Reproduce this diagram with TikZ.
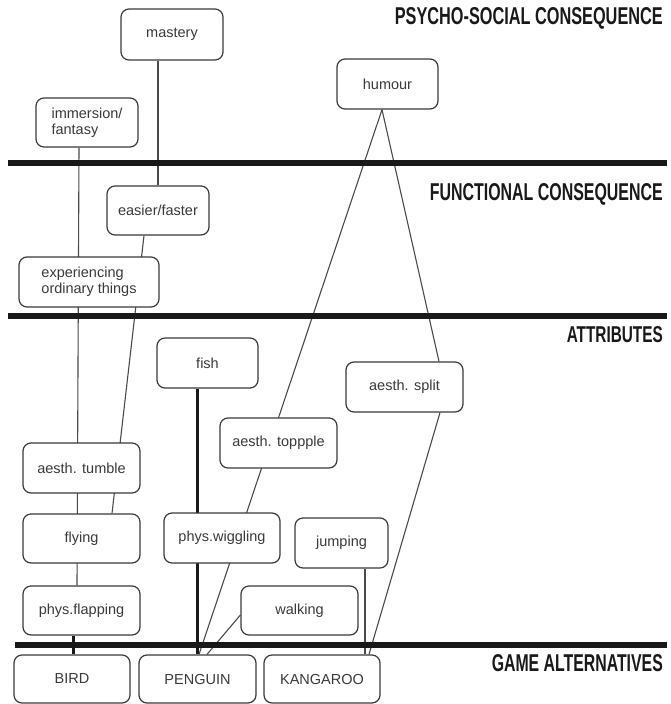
\documentclass[tikz,border=0pt]{standalone}
\usepackage{fontspec}
\usepackage{graphicx}
\setmainfont{Liberation Sans}
\usetikzlibrary{backgrounds,calc}
\definecolor{boxline}{HTML}{3A3A3A}
\definecolor{boxtext}{HTML}{3A3A3A}
\definecolor{conn}{HTML}{4A4A4A}
\begin{document}
\begin{tikzpicture}[x=1pt,y=-1pt,
  box/.style={draw=boxline, line width=1.2pt, rounded corners=8pt, fill=white,
    text=boxtext, font=\fontsize{14.5}{16}\selectfont, inner sep=0pt},
  thin/.style={draw=conn, line width=1.1pt},
  thick/.style={draw=black!90, line width=3pt},
  sep/.style={draw=black!90, line width=6pt},
  lab/.style={anchor=east, inner sep=0pt, text=black!90}]
\useasboundingbox (0,0) rectangle (670,704);
% separators
\draw[sep] (8,163) -- (667,163);
\draw[sep] (8,316) -- (667,316);
\draw[sep] (15,645) -- (667,645);
% labels
\node[lab] (l1) at (663,18.5) {\resizebox{268pt}{17pt}{\bfseries PSYCHO-SOCIAL CONSEQUENCE}};
\node[lab] (l2) at (663,194) {\resizebox{233pt}{17pt}{\bfseries FUNCTIONAL CONSEQUENCE}};
\node[lab] (l3) at (663,335) {\resizebox{96pt}{16pt}{\bfseries ATTRIBUTES}};
\node[lab] (l4) at (663,663.5) {\resizebox{171pt}{17pt}{\bfseries GAME ALTERNATIVES}};
% boxes
\node[box, minimum width=102pt, minimum height=51pt] (mastery) at (172,34.5) {mastery};
\node[box, minimum width=102pt, minimum height=49pt, align=left] (immersion) at (87,122.5) {immersion/\\fantasy};
\node[box, minimum width=102pt, minimum height=49pt] (easier) at (158,210.5) {easier/faster};
\node[box, minimum width=140pt, minimum height=50pt, align=left] (exper) at (89,282) {experiencing\\ordinary things};
\node[box, minimum width=101pt, minimum height=50pt] (humour) at (387.5,84) {humour};
\node[box, minimum width=101pt, minimum height=50pt] (fish) at (207.5,363) {fish};
\node[box, minimum width=117pt, minimum height=50pt] (split) at (404.5,387) {aesth. split};
\node[box, minimum width=117pt, minimum height=50pt] (topple) at (278.5,443) {aesth. toppple};
\node[box, minimum width=117pt, minimum height=50pt] (tumble) at (81.5,468) {aesth. tumble};
\node[box, minimum width=117pt, minimum height=49pt] (flying) at (81.5,538.5) {flying};
\node[box, minimum width=116pt, minimum height=50pt] (wiggling) at (222,538) {phys.wiggling};
\node[box, minimum width=93pt, minimum height=50pt] (jumping) at (341.5,543) {jumping};
\node[box, minimum width=117pt, minimum height=49pt] (flapping) at (81.5,610.5) {phys.flapping};
\node[box, minimum width=117pt, minimum height=49pt] (walking) at (299.5,610.5) {walking};
\node[box, minimum width=116pt, minimum height=48pt] (bird) at (72,679) {BIRD};
\node[box, minimum width=117pt, minimum height=48pt] (penguin) at (197.5,679) {PENGUIN};
\node[box, minimum width=116pt, minimum height=48pt] (kangaroo) at (322,679) {KANGAROO};
% connectors
\begin{pgfonlayer}{background}
\draw[thin] (easier.north |- mastery.south) -- (easier.north);
\draw[thin] ([xshift=-8pt]immersion.south) -- ([xshift=-4.5pt]flapping.north);
\draw[thin] ([xshift=-14pt]easier.south) -- ([xshift=30.5pt]flying.north);
\draw[thick] ([xshift=1pt]bird.north |- flapping.south) -- ([xshift=1pt]bird.north);
\draw[thick] (penguin.north |- fish.south) -- (penguin.north);
\draw[thin] ([xshift=-5.5pt]humour.south) -- ([xshift=1.5pt]penguin.north);
\draw[thin] ([xshift=-5.5pt]humour.south) -- ([xshift=34.5pt]split.north);
\draw[thin] ([xshift=35.5pt]split.south) -- ([xshift=47pt]kangaroo.north);
\draw[thin] ([xshift=23.5pt]jumping.south) -- ([xshift=43pt]kangaroo.north);
\draw[thin] ([yshift=-4.5pt]walking.west) -- ([xshift=9.5pt]penguin.north);
\end{pgfonlayer}
\end{tikzpicture}
\end{document}
